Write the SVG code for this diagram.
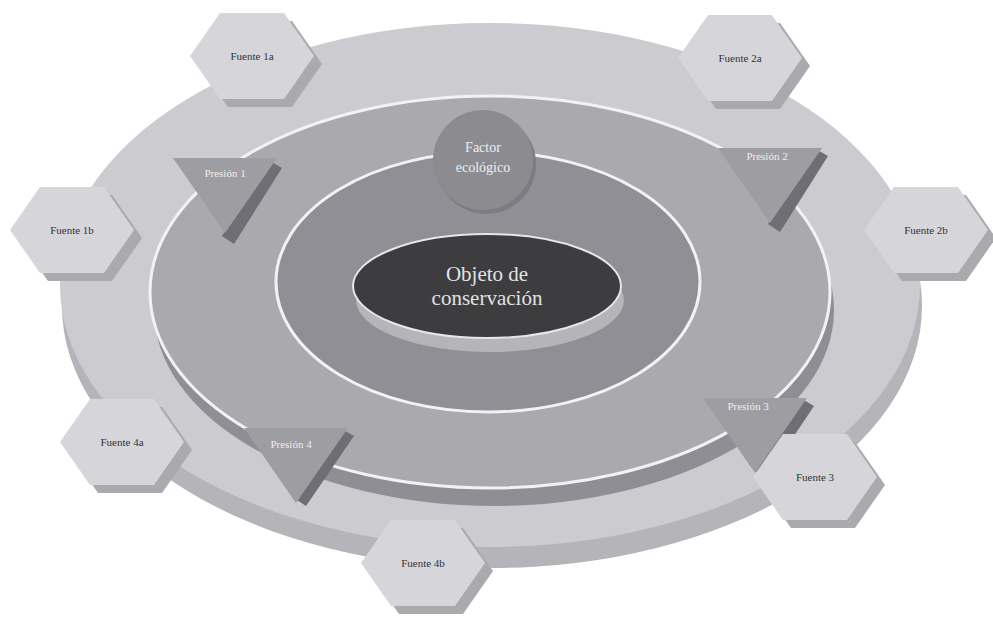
<svg xmlns="http://www.w3.org/2000/svg" width="993" height="622" viewBox="0 0 993 622">
<defs>
<style>
.hex{fill:#d6d6da;}
.hexsh{fill:#a9a9ae;}
.tri{fill:#9d9da2;}
.trish{fill:#6e6e74;}
.lab{font-family:"Liberation Serif",serif;font-size:11px;fill:#333;text-anchor:middle;}
.wlab{font-family:"Liberation Serif",serif;font-size:11px;fill:#eeeeee;text-anchor:middle;}
.flab{font-family:"Liberation Serif",serif;font-size:14px;fill:#eeeeee;text-anchor:middle;}
</style>
<polygon id="hx" points="-62,0 -32,-43 32,-43 62,0 32,43 -32,43"/>
<polygon id="tr" points="-52,0 52,0 0,75"/>
</defs>
<rect width="993" height="622" fill="#ffffff"/>
<g id="base">
<ellipse cx="492" cy="306" rx="430" ry="262" fill="#b4b4b9"/>
<ellipse cx="490" cy="285" rx="430" ry="262" fill="#cbcbd0"/>
<ellipse cx="494" cy="310" rx="340" ry="196" fill="#8e8e94"/>
<ellipse cx="490" cy="292" rx="340" ry="196" fill="#a9a9ae" stroke="#f2f2f4" stroke-width="3"/>
<ellipse cx="488" cy="282" rx="212" ry="130" fill="#8f8f95" stroke="#f2f2f4" stroke-width="3"/>
</g>
<g id="connectors"></g>
<g id="objeto">
<ellipse cx="490" cy="300" rx="134" ry="52" fill="#b4b4b9"/>
<ellipse cx="487" cy="286" rx="134" ry="52" fill="#3d3d40" stroke="#e6e6e8" stroke-width="2"/>
<text x="487" y="281" font-family="Liberation Serif,serif" font-size="21" fill="#e2e2e2" text-anchor="middle">Objeto de</text>
<text x="487" y="305" font-family="Liberation Serif,serif" font-size="21" fill="#e2e2e2" text-anchor="middle">conservación</text>
</g>
<g id="factor">
<circle cx="486" cy="164" r="50" fill="#7c7c82"/>
<circle cx="483" cy="160" r="50" fill="#8b8b90"/>
<text x="483" y="152" class="flab">Factor</text>
<text x="483" y="172" class="flab">ecológico</text>
</g>
<g id="presion1">
<polygon points="268,160 282,168 234,244 222,236" class="trish"/>
<use href="#tr" x="225" y="158" class="tri"/>
<text x="225" y="177" class="wlab">Presión 1</text>
</g>
<g id="presion2">
<polygon points="814,148 828,156 780,232 768,224" class="trish"/>
<use href="#tr" x="770" y="148" class="tri"/>
<text x="767" y="160" class="wlab">Presión 2</text>
</g>
<g id="presion3">
<polygon points="800,398 814,406 766,478 754,470" class="trish"/>
<use href="#tr" x="755" y="398" class="tri"/>
<text x="748" y="410" class="wlab">Presión 3</text>
</g>
<g id="presion4">
<polygon points="340,428 354,436 306,506 294,498" class="trish"/>
<use href="#tr" x="296" y="428" class="tri"/>
<text x="291" y="448" class="wlab">Presión 4</text>
</g>
<g id="fuente1a">
<use href="#hx" x="260" y="64" class="hexsh"/>
<use href="#hx" x="252" y="56" class="hex"/>
<text x="252" y="60" class="lab">Fuente 1a</text>
</g>
<g id="fuente2a">
<use href="#hx" x="748" y="66" class="hexsh"/>
<use href="#hx" x="740" y="58" class="hex"/>
<text x="740" y="62" class="lab">Fuente 2a</text>
</g>
<g id="fuente1b">
<use href="#hx" x="80" y="238" class="hexsh"/>
<use href="#hx" x="72" y="230" class="hex"/>
<text x="72" y="234" class="lab">Fuente 1b</text>
</g>
<g id="fuente2b">
<use href="#hx" x="934" y="238" class="hexsh"/>
<use href="#hx" x="926" y="230" class="hex"/>
<text x="926" y="234" class="lab">Fuente 2b</text>
</g>
<g id="fuente4a">
<use href="#hx" x="130" y="450" class="hexsh"/>
<use href="#hx" x="122" y="442" class="hex"/>
<text x="122" y="446" class="lab">Fuente 4a</text>
</g>
<g id="fuente3">
<use href="#hx" x="823" y="485" class="hexsh"/>
<use href="#hx" x="815" y="477" class="hex"/>
<text x="815" y="481" class="lab">Fuente 3</text>
</g>
<g id="fuente4b">
<use href="#hx" x="431" y="571" class="hexsh"/>
<use href="#hx" x="423" y="563" class="hex"/>
<text x="423" y="567" class="lab">Fuente 4b</text>
</g>
</svg>
